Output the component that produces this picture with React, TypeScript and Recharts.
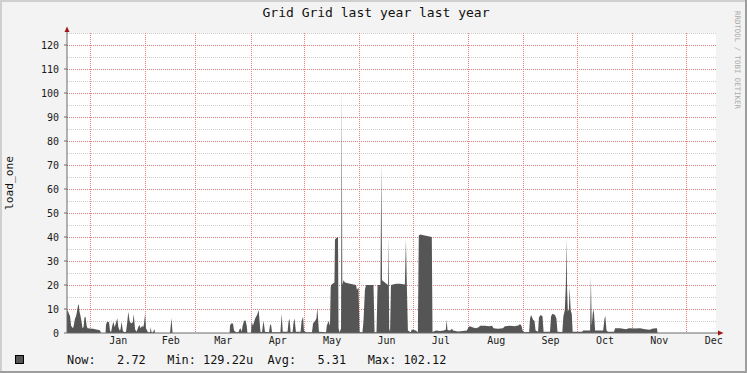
import React from 'react';
import { AreaChart, Area, XAxis, YAxis, CartesianGrid } from 'recharts';

// Day offsets are measured from Jan 1 (negative = late December of the previous year)
const xDomain: [number, number] = [-13.2, 350.8];
const monthStarts = [0, 31, 59, 90, 120, 151, 181, 212, 243, 273, 304, 334];
const monthMids = [15.5, 45, 74.5, 105, 135.5, 166, 196.5, 227.5, 258, 288.5, 319, 349.5];
const monthLabels = ['Jan', 'Feb', 'Mar', 'Apr', 'May', 'Jun', 'Jul', 'Aug', 'Sep', 'Oct', 'Nov', 'Dec'];

const yTicks = [0, 10, 20, 30, 40, 50, 60, 70, 80, 90, 100, 110, 120];
const yMajorGrid = [10, 20, 30, 40, 50, 60, 70, 80, 90, 100, 110, 120];
const yMinorGrid = [5, 15, 25, 35, 45, 55, 65, 75, 85, 95, 105, 115, 125];
const yDomain: [number, number] = [0, 125];

// [day, load_one]
const decJan: [number, number][] = [
  [-13.2, 9.5], [-12.6, 9.0], [-12.1, 8.0], [-11.5, 7.0], [-10.9, 3.0], [-10.4, 2.5], [-9.8, 2.0],
  [-9.3, 3.5], [-8.7, 6.0], [-8.1, 7.0], [-7.6, 9.0], [-7.0, 11.5], [-6.6, 12.0], [-6.2, 9.0],
  [-5.6, 7.0], [-5.1, 5.0], [-4.5, 2.0], [-3.9, 2.5], [-3.4, 6.5], [-2.8, 6.8], [-2.2, 3.0],
  [-1.7, 2.0], [-0.3, 1.9], [1.4, 1.8], [3.1, 1.5], [4.8, 1.2], [5.3, 1.0], [5.9, 0], [8.4, 0],
  [8.7, 3.5], [9.3, 4.7], [10.4, 4.5], [10.9, 1.0], [11.5, 0.3], [12.2, 3.0], [12.8, 4.7],
  [13.5, 2.5], [14.0, 3.5], [15.0, 6.1], [15.6, 2.5], [16.3, 1.0], [16.8, 1.5], [17.4, 4.7],
  [18.1, 1.0], [18.8, 0.3], [19.9, 0.5], [20.5, 4.0], [21.2, 8.9], [21.9, 5.0], [22.7, 4.0],
  [23.7, 4.5], [24.2, 7.9], [25.0, 1.5], [25.8, 0.5], [26.8, 2.5], [27.5, 3.3], [28.1, 2.0],
  [28.9, 2.9], [29.6, 2.5], [30.0, 4.0], [30.6, 7.9], [31.1, 2.0], [32.2, 0.3], [33.4, 0.3],
  [33.8, 2.4], [34.2, 0.3], [35.0, 0.2], [35.8, 1.7], [36.2, 0], [44.6, 0], [45.1, 4.0],
  [45.4, 6.1], [46.0, 0],
];

const marApr: [number, number][] = [
  [78.0, 0], [78.2, 3.0], [78.8, 4.0], [79.9, 4.0], [80.5, 1.0], [81.6, 0.3], [83.0, 0.3],
  [83.5, 1.5], [84.1, 2.0], [84.8, 0.5], [85.3, 3.0], [86.1, 5.0], [86.9, 5.3], [87.6, 3.0],
  [88.0, 0], [90.0, 0], [90.4, 4.7], [91.1, 3.0], [92.3, 6.0], [93.4, 7.5], [94.3, 9.6],
  [94.8, 5.0], [95.3, 0.5], [96.2, 0.3], [96.6, 3.0], [97.1, 5.0], [97.8, 0.5], [100.1, 0.3],
  [100.6, 3.0], [101.2, 3.8], [101.8, 0.3], [106.5, 0.3], [107.2, 7.9], [107.8, 0.5],
  [110.5, 0.5], [111.1, 5.0], [111.6, 5.8], [112.2, 0.5], [113.3, 0.3], [113.8, 4.0],
  [114.4, 6.1], [115.2, 0.5], [117.8, 0.5], [118.4, 5.0], [119.2, 6.8], [119.7, 1.0],
  [120.8, 0.3], [124.2, 0.3], [124.8, 4.0], [125.9, 5.0], [126.7, 6.0], [127.2, 10.5],
  [127.7, 5.0], [128.1, 0.5], [132.1, 0.3],
];

const mayJul: [number, number][] = [
  [132.5, 3.0], [133.5, 5.0], [134.3, 3.0], [134.7, 19.0], [134.9, 20.0], [136.8, 21.0],
  [137.1, 39.0], [138.5, 40.0], [138.8, 40.0], [139.1, 2.0], [139.7, 0.2], [140.5, 2.0],
  [140.9, 102.1], [141.2, 20.0], [141.9, 22.0], [142.7, 21.0], [145.5, 20.5], [148.9, 20.0],
  [149.4, 18.0], [150.3, 19.0], [150.9, 0.3], [152.5, 0.3], [153.1, 5.0], [153.9, 18.0],
  [154.5, 20.0], [158.7, 20.0], [159.3, 0.3], [160.4, 0.3], [161.0, 20.0], [162.6, 20.0],
  [163.1, 71.0], [163.5, 22.0], [166.8, 20.0], [167.1, 40.0], [167.5, 2.0], [168.0, 0.5],
  [168.5, 20.0], [171.3, 20.5], [173.5, 20.5], [176.3, 20.2], [176.9, 39.0], [177.4, 20.0],
  [178.0, 1.0], [179.6, 0.3], [180.2, 1.5], [182.4, 1.0], [183.6, 0.3], [184.1, 40.5],
  [184.7, 41.0], [188.1, 40.5], [191.4, 40.0], [191.8, 0.5],
];

const julSep: [number, number][] = [
  [192.1, 0.5], [193.7, 1.0], [196.0, 0.8], [198.2, 1.0], [199.3, 1.5], [199.7, 5.5],
  [200.2, 1.2], [201.6, 1.0], [202.7, 1.8], [203.3, 1.0], [206.1, 0.6], [208.9, 0.8],
  [211.1, 1.0], [212.0, 2.5], [212.8, 2.8], [214.5, 2.3], [216.2, 2.0], [217.9, 2.5],
  [218.4, 3.0], [221.2, 3.0], [223.5, 2.8], [225.2, 3.0], [226.0, 2.0], [228.5, 1.8],
  [231.3, 2.0], [232.4, 2.8], [235.2, 3.0], [238.0, 2.8], [240.3, 3.2], [240.8, 3.8],
  [241.7, 3.0], [242.3, 1.0], [243.1, 0.3], [246.0, 0.4], [246.5, 6.0], [247.1, 7.5],
  [248.2, 5.5], [249.0, 5.0], [249.6, 1.0], [251.0, 0.5], [251.5, 6.5], [252.4, 7.5],
  [253.5, 7.0], [254.1, 0.5], [257.7, 0.5], [258.3, 7.0], [259.1, 8.0], [260.5, 7.5],
  [261.3, 6.0], [261.9, 0.5],
];

const sepDec: [number, number][] = [
  [264.6, 0.4], [265.2, 7.0], [266.0, 9.5], [266.6, 20.0], [266.9, 39.4], [267.3, 18.0],
  [267.7, 9.0], [268.3, 10.0], [268.7, 19.0], [269.3, 9.5], [269.9, 8.0], [270.4, 0.5],
  [275.7, 0.5], [276.3, 1.0], [280.2, 1.0], [280.6, 23.5], [281.1, 3.0], [281.9, 10.0],
  [282.4, 8.0], [283.0, 1.0], [287.5, 1.0], [288.3, 6.0], [288.7, 7.2], [289.4, 1.0],
  [290.2, 0.5], [293.6, 0.5], [294.2, 2.0], [297.0, 2.0], [300.3, 1.6], [302.0, 2.0],
  [305.4, 1.9], [308.2, 2.0], [311.0, 1.6], [313.8, 1.4], [314.9, 1.8], [317.1, 2.0],
  [317.7, 2.0], [318.0, 0], [350.8, 0],
];

const legendText = 'Now:   2.72   Min: 129.22u  Avg:   5.31   Max: 102.12';
const titleText = 'Grid Grid last year last year';
const yAxisTitle = 'load_one';
const watermark = 'RRDTOOL / TOBI OETIKER';

const data = [...decJan, ...marApr, ...mayJul, ...julSep, ...sepDec].map(([day, load]) => ({ day, load }));

const MONO = "'DejaVu Sans Mono', monospace";
const AXIS = '#6b6b6b';
const ARROW = '#a01818';

export default function App() {
  return (
    <div style={{ position: 'absolute', left: 0, top: 0, width: 747, height: 373, background: '#F3F3F3', overflow: 'hidden' }}>
      <div style={{ position: 'absolute', left: 0, top: 0 }}>
        <AreaChart width={747} height={373} data={data} margin={{ top: 33, right: 31, bottom: 9, left: 0 }}>
          <CartesianGrid
            xAxisId="months"
            yAxisId="y"
            fill="#FFFFFF"
            stroke="#CDCDCD"
            strokeDasharray="1 1"
            shapeRendering="crispEdges"
            vertical={false}
            horizontalValues={yMinorGrid}
          />
          <CartesianGrid
            xAxisId="months"
            yAxisId="y"
            stroke="#E08080"
            strokeDasharray="1 1"
            shapeRendering="crispEdges"
            horizontalValues={yMajorGrid}
            verticalValues={monthStarts}
          />
          <XAxis
            xAxisId="months"
            dataKey="day"
            type="number"
            domain={xDomain}
            allowDataOverflow
            ticks={monthStarts}
            interval={0}
            hide
          />
          <XAxis
            xAxisId="labels"
            dataKey="day"
            type="number"
            domain={xDomain}
            allowDataOverflow
            ticks={monthMids}
            interval={0}
            tickFormatter={(v: number) => monthLabels[monthMids.indexOf(v)]}
            axisLine={{ stroke: AXIS }}
            tickLine={false}
            tickSize={0}
            tickMargin={4}
            height={31}
            tick={{ fontSize: 10, fill: '#1a1a1a', fontFamily: MONO }}
          />
          <YAxis
            yAxisId="y"
            type="number"
            domain={yDomain}
            ticks={yTicks}
            interval={0}
            width={67}
            tickSize={3}
            tickMargin={5}
            axisLine={{ stroke: AXIS }}
            tickLine={{ stroke: AXIS }}
            tick={{ fontSize: 10, fill: '#1a1a1a', fontFamily: MONO }}
          />
          <Area
            xAxisId="months"
            yAxisId="y"
            dataKey="load"
            type="linear"
            fill="#555555"
            fillOpacity={1}
            stroke="none"
            dot={false}
            activeDot={false}
            isAnimationActive={false}
          />
        </AreaChart>
      </div>
      <svg width={747} height={373} style={{ position: 'absolute', left: 0, top: 0, pointerEvents: 'none' }}>
        <text x={376} y={17} textAnchor="middle" fontFamily={MONO} fontSize={13} fill="#111">{titleText}</text>
        <text transform="translate(13,183) rotate(-90)" textAnchor="middle" fontFamily={MONO} fontSize={11.2} fill="#111">{yAxisTitle}</text>
        <text transform="translate(735,60) rotate(90)" textAnchor="middle" fontFamily={MONO} fontSize={7.4} fill="#ABABAB">{watermark}</text>
        <line x1={67} y1={33} x2={67} y2={29} stroke={AXIS} />
        <polygon points="64.5,32 69.5,32 67,26.5" fill={ARROW} />
        <line x1={716} y1={333} x2={719} y2={333} stroke={AXIS} />
        <polygon points="718,330.5 718,335.5 723.5,333" fill={ARROW} />
        <rect x={15.5} y={355.5} width={8} height={8} fill="#555555" stroke="#000" />
        <text x={67} y={363.5} fontFamily={MONO} fontSize={11.9} fill="#111" xmlSpace="preserve" style={{ whiteSpace: 'pre' }}>{legendText}</text>
        <rect x={0} y={0} width={747} height={2} fill="#CFCFCF" />
        <rect x={0} y={0} width={2} height={373} fill="#CFCFCF" />
        <rect x={745} y={0} width={2} height={373} fill="#9E9E9E" />
        <rect x={0} y={371} width={747} height={2} fill="#9E9E9E" />
      </svg>
    </div>
  );
}
